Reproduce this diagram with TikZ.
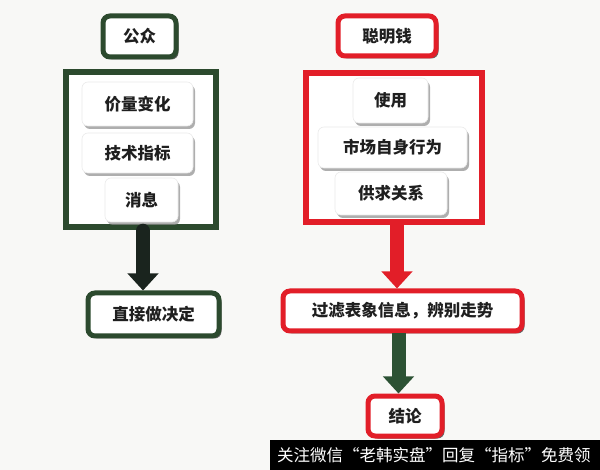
\documentclass[tikz,border=0pt]{standalone}
\usepackage{fontspec}
\newfontfamily\cjk{Noto Sans CJK SC}
\usetikzlibrary{shadows,arrows.meta}
\definecolor{pubgreen}{RGB}{44,74,46}
\definecolor{smartred}{RGB}{226,30,40}
\definecolor{arrowdark}{RGB}{26,36,30}
\definecolor{arrowgreen}{RGB}{44,82,52}
\definecolor{paper}{RGB}{248,248,246}
\tikzset{
  titlebox/.style={draw=#1,line width=5pt,fill=white,rounded corners=7pt,inner sep=0pt,
    drop shadow={shadow xshift=2.5pt,shadow yshift=-2.5pt,fill=black!75,opacity=.8}},
  framebox/.style={draw=#1,line width=5.5pt,fill=white,inner sep=0pt,
    drop shadow={shadow xshift=2pt,shadow yshift=-2pt,fill=black!70,opacity=.7}},
  itembox/.style={draw=black!8,line width=.6pt,fill=white,rounded corners=6pt,inner sep=0pt,
    drop shadow={shadow xshift=2pt,shadow yshift=-3pt,fill=black!45,opacity=.7}},
  bigarrow/.style={draw=#1,line width=14pt,-{Triangle[width=30pt,length=17pt]}}
}
\begin{document}
\begin{tikzpicture}[x=1pt,y=-1pt,text=black!88,font=\cjk\bfseries\fontsize{16.5}{18}\selectfont]
\fill[paper] (0,0) rectangle (600,470);
\useasboundingbox (0,0) rectangle (600,470);
% left column
\node[titlebox=pubgreen,minimum width=73pt,minimum height=41pt] (public) at (139.5,36.5) {公众};
\node[framebox=pubgreen,minimum width=150pt,minimum height=155pt] (frameL) at (141,149.5) {};
\node[itembox,minimum width=111pt,minimum height=44pt] (price) at (137.5,104) {价量变化};
\node[itembox,minimum width=111pt,minimum height=40pt] (indicator) at (137.5,153) {技术指标};
\node[itembox,minimum width=73pt,minimum height=44pt] (news) at (141.5,200) {消息};
\node[titlebox=pubgreen,minimum width=131pt,minimum height=43pt] (decide) at (153.5,314.5) {直接做决定};
% right column
\node[titlebox=smartred,minimum width=98pt,minimum height=40pt] (smart) at (387,36) {聪明钱};
\node[framebox=smartred,minimum width=176pt,minimum height=149pt] (frameR) at (394,147.5) {};
\node[itembox,minimum width=75pt,minimum height=45pt] (use) at (390.5,100.5) {使用};
\node[itembox,minimum width=149pt,minimum height=41pt] (market) at (392.5,147.5) {市场自身行为};
\node[itembox,minimum width=112pt,minimum height=43pt] (supply) at (391,193.5) {供求关系};
\node[titlebox=smartred,minimum width=239pt,minimum height=40pt] (filter) at (402.5,311) {过滤表象信息，辨别走势};
\node[titlebox=smartred,minimum width=74pt,minimum height=40pt] (result) at (405,416) {结论};
% arrows
\draw[bigarrow=arrowdark,line cap=round] ([xshift=2pt,yshift=-1pt]frameL.south) -- ([xshift=2pt]frameL.south |- decide.north);
\draw[bigarrow=smartred] ([xshift=3pt]frameR.south) -- ([xshift=3pt]frameR.south |- filter.north);
\draw[bigarrow=arrowgreen] ([xshift=-4pt]filter.south) -- ([xshift=-4pt]filter.south |- result.north);
% watermark
\node[fill=black,text=white,font=\cjk\fontsize{16.5}{18}\selectfont,anchor=north west,minimum width=330pt,minimum height=30pt,inner sep=0pt,text width=316pt,align=left] (mark) at (270,440) {关注微信“老韩实盘”回复“指标”免费领};
\end{tikzpicture}
\end{document}
